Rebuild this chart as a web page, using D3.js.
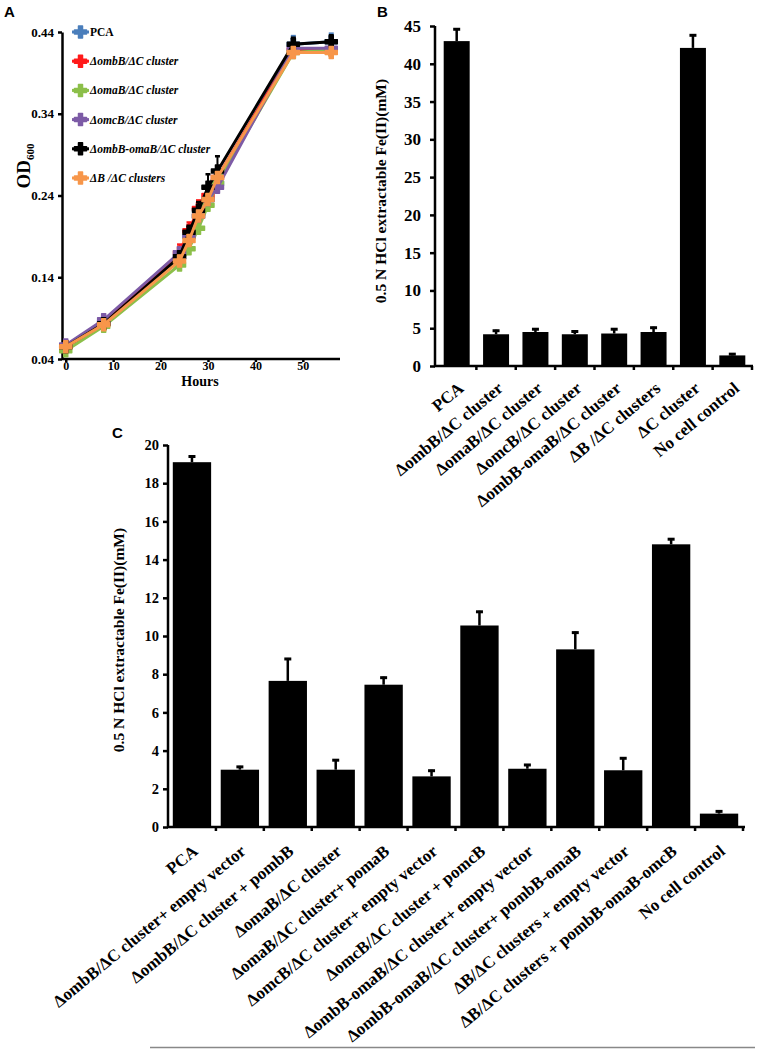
<!DOCTYPE html>
<html><head><meta charset="utf-8">
<script src="https://cdn.jsdelivr.net/npm/d3@7"></script>
<style>
body{margin:0;background:#fff}
svg{display:block}
text{font-family:"Liberation Serif","Times New Roman",serif;font-weight:bold;fill:#000}
</style>
</head><body>
<svg id="c" width="758" height="1052"></svg>
<script>
// ---------- Panel A data ----------
const hours = [0, 8, 24, 26, 28, 30, 32, 48, 56];
const seriesA = ["PCA", "ΔombB/ΔC cluster", "ΔomaB/ΔC cluster", "ΔomcB/ΔC cluster", "ΔombB-omaB/ΔC cluster", "ΔB /ΔC clusters"];
const colorsA = ["#4a7ebb", "#ff1a1a", "#8cbf4a", "#7d5ba6", "#000000", "#f7964a"];
const odPCA    = [0.055, 0.085, 0.165, 0.190, 0.215, 0.235, 0.255, 0.425, 0.428];
const odOmbB   = [0.055, 0.083, 0.170, 0.197, 0.224, 0.240, 0.262, 0.418, 0.418];
const odOmaB   = [0.050, 0.080, 0.155, 0.175, 0.200, 0.228, 0.255, 0.415, 0.418];
const odOmcB   = [0.057, 0.088, 0.170, 0.190, 0.215, 0.235, 0.250, 0.420, 0.420];
const odOmbOma = [0.055, 0.083, 0.165, 0.195, 0.222, 0.250, 0.270, 0.425, 0.428];
const odBC     = [0.055, 0.082, 0.160, 0.185, 0.215, 0.235, 0.262, 0.415, 0.415];
const errPCA    = [0.004, 0.003, 0.006, 0.006, 0.006, 0.010, 0.012, 0.010, 0.010];
const errOmbB   = [0.003, 0.003, 0.010, 0.010, 0.010, 0.006, 0.006, 0.006, 0.006];
const errOmaB   = [0.003, 0.003, 0.010, 0.010, 0.008, 0.006, 0.006, 0.006, 0.006];
const errOmcB   = [0.003, 0.003, 0.006, 0.006, 0.006, 0.006, 0.008, 0.006, 0.006];
const errOmbOma = [0.003, 0.003, 0.006, 0.008, 0.010, 0.016, 0.018, 0.008, 0.008];
const errBC     = [0.003, 0.003, 0.006, 0.006, 0.006, 0.006, 0.006, 0.006, 0.006];
const yTicksA = [0.04, 0.14, 0.24, 0.34, 0.44];
const xTicksA = [0, 10, 20, 30, 40, 50];

// ---------- Panel B data ----------
const catsB = ["PCA", "ΔombB/ΔC cluster", "ΔomaB/ΔC cluster", "ΔomcB/ΔC cluster", "ΔombB-omaB/ΔC cluster", "ΔB /ΔC clusters", "ΔC cluster", "No cell control"];
const valsB = [43.0, 4.2, 4.5, 4.2, 4.3, 4.5, 42.1, 1.4];
const errsB = [1.7, 0.6, 0.5, 0.5, 0.7, 0.7, 1.8, 0.3];
const yTicksB = [0, 5, 10, 15, 20, 25, 30, 35, 40, 45];

// ---------- Panel C data ----------
const catsC = ["PCA", "ΔombB/ΔC cluster+ empty vector", "ΔombB/ΔC cluster + pombB", "ΔomaB/ΔC cluster", "ΔomaB/ΔC cluster+ pomaB", "ΔomcB/ΔC cluster+ empty vector", "ΔomcB/ΔC cluster + pomcB", "ΔombB-omaB/ΔC cluster+ empty vector", "ΔombB-omaB/ΔC cluster+ pombB-omaB", "ΔB/ΔC clusters + empty vector", "ΔB/ΔC clusters + pombB-omaB-omcB", "No cell control"];
const valsC = [19.1, 3.0, 7.65, 3.0, 7.45, 2.65, 10.55, 3.05, 9.3, 2.97, 14.8, 0.7];
const errsC = [0.35, 0.2, 1.2, 0.55, 0.42, 0.35, 0.77, 0.25, 0.93, 0.68, 0.32, 0.17];
const yTicksC = [0, 2, 4, 6, 8, 10, 12, 14, 16, 18, 20];

const svg = d3.select("#c");
svg.append("rect").attr("width", 758).attr("height", 1052).attr("fill", "#fff");

function styleAxis(g, w) {
  g.selectAll(".domain").attr("stroke", "#000").attr("stroke-width", w);
  g.selectAll(".tick line").attr("stroke", "#000").attr("stroke-width", w);
}

// panel letters
[["A", 4, 17], ["B", 377, 17], ["C", 112, 438]].forEach(([t, x, y]) => {
  svg.append("text").attr("x", x).attr("y", y).text(t)
    .style("font-family", "'Liberation Sans',Arial,sans-serif").style("font-size", "15px");
});

// ================= Panel A =================
{
  const x = d3.scaleLinear([-1, 57], [61, 336]);
  const y = d3.scaleLinear([0.04, 0.44], [359, 32]);
  const gy = svg.append("g").attr("transform", "translate(62,0)")
    .call(d3.axisLeft(y).tickValues(yTicksA).tickFormat(d3.format(".2f")).tickSize(4).tickSizeOuter(0));
  styleAxis(gy, 2.5);
  gy.selectAll("text").style("font-size", "13px").attr("x", -8);
  const gx = svg.append("g").attr("transform", "translate(0,359)")
    .call(d3.axisBottom(x).tickValues(xTicksA).tickSize(3).tickSizeOuter(0));
  styleAxis(gx, 2.5);
  gx.select(".domain").attr("d", "M62,0H340");
  gx.selectAll("text").style("font-size", "12px").attr("y", 2);
  svg.append("text").attr("x", 200).attr("y", 386).attr("text-anchor", "middle").style("font-size", "14px").text("Hours");
  const t = svg.append("text").attr("transform", "translate(30,166) rotate(-90)").attr("text-anchor", "middle").style("font-size", "19px");
  t.append("tspan").text("OD");
  t.append("tspan").attr("dy", 4).style("font-size", "11px").text("600");

  const data = [odPCA, odOmbB, odOmaB, odOmcB, odOmbOma, odBC];
  const errs = [errPCA, errOmbB, errOmaB, errOmcB, errOmbOma, errBC];
  const line = d3.line().x((d, i) => x(hours[i])).y(d => y(d));
  const sym = d3.symbol(d3.symbolCross, 80);
  data.forEach((vals, s) => {
    const g = svg.append("g");
    g.append("path").attr("d", line(vals)).attr("fill", "none").attr("stroke", colorsA[s]).attr("stroke-width", 3);
    vals.forEach((v, i) => {
      const cx = x(hours[i]), top = y(v + errs[s][i]);
      g.append("line").attr("x1", cx).attr("x2", cx).attr("y1", y(v)).attr("y2", top).attr("stroke", colorsA[s]).attr("stroke-width", 2);
      g.append("line").attr("x1", cx - 2.5).attr("x2", cx + 2.5).attr("y1", top).attr("y2", top).attr("stroke", colorsA[s]).attr("stroke-width", 2.5);
      g.append("path").attr("d", sym()).attr("transform", `translate(${cx},${y(v)})`).attr("fill", colorsA[s])
        .attr("stroke", colorsA[s]).attr("stroke-width", 1.5).attr("stroke-linejoin", "round");
    });
  });
  // legend
  seriesA.forEach((name, s) => {
    const ly = 32 + s * 29.2;
    const g = svg.append("g");
    g.append("line").attr("x1", 72).attr("x2", 89).attr("y1", ly).attr("y2", ly).attr("stroke", colorsA[s]).attr("stroke-width", 3);
    g.append("path").attr("d", sym()).attr("transform", `translate(80.5,${ly})`).attr("fill", colorsA[s])
      .attr("stroke", colorsA[s]).attr("stroke-width", 1.5).attr("stroke-linejoin", "round");
    g.append("text").attr("x", 90).attr("y", ly + 4).style("font-size", "11.5px")
      .style("font-style", s === 0 ? "normal" : "italic").text(name);
  });
}

// ================= Panel B =================
{
  const x = d3.scaleBand(catsB, [437, 752]).paddingInner(0.34).paddingOuter(0.17);
  const y = d3.scaleLinear([0, 45], [366, 26]);
  const gy = svg.append("g").attr("transform", "translate(435,0)")
    .call(d3.axisLeft(y).tickValues(yTicksB).tickSize(5).tickSizeOuter(0));
  styleAxis(gy, 2.5);
  gy.select(".domain").attr("d", "M0,367V26");
  gy.selectAll("text").style("font-size", "17px").attr("x", -14);
  const step = x.step();
  const gx = svg.append("g").attr("transform", "translate(0,366)");
  gx.append("line").attr("x1", 434).attr("x2", 753).attr("stroke", "#000").attr("stroke-width", 2.5);
  catsB.forEach((c, i) => {
    const tx = 437 + step * (i + 1);
    gx.append("line").attr("x1", tx).attr("x2", tx).attr("y1", 0).attr("y2", 4).attr("stroke", "#000").attr("stroke-width", 2.5);
  });
  svg.append("g").selectAll("rect").data(catsB).join("rect")
    .attr("x", d => x(d)).attr("width", x.bandwidth())
    .attr("y", (d, i) => y(valsB[i])).attr("height", (d, i) => y(0) - y(valsB[i])).attr("fill", "#000");
  catsB.forEach((c, i) => {
    const cx = x(c) + x.bandwidth() / 2, top = y(valsB[i] + errsB[i]);
    svg.append("line").attr("x1", cx).attr("x2", cx).attr("y1", y(valsB[i])).attr("y2", top).attr("stroke", "#000").attr("stroke-width", 2.5);
    svg.append("line").attr("x1", cx - 3.5).attr("x2", cx + 3.5).attr("y1", top + 1).attr("y2", top + 1).attr("stroke", "#000").attr("stroke-width", 3);
    svg.append("text").attr("transform", `translate(${cx + 8},${390}) rotate(-40)`)
      .attr("text-anchor", "end").style("font-size", "17px").text(c);
  });
  svg.append("text").attr("transform", "translate(386,191) rotate(-90)").attr("text-anchor", "middle")
    .style("font-size", "15.5px").text("0.5 N HCl extractable  Fe(II)(mM)");
}

// ================= Panel C =================
{
  const x = d3.scaleBand(catsC, [168, 743]).paddingInner(0.2).paddingOuter(0.1);
  const y = d3.scaleLinear([0, 20], [827, 445]);
  const gy = svg.append("g").attr("transform", "translate(168,0)")
    .call(d3.axisLeft(y).tickValues(yTicksC).tickSize(5).tickSizeOuter(0));
  styleAxis(gy, 2.5);
  gy.select(".domain").attr("d", "M0,828V445");
  gy.selectAll("text").style("font-size", "14.5px").attr("x", -9);
  const step = x.step();
  const gx = svg.append("g").attr("transform", "translate(0,827)");
  gx.append("line").attr("x1", 167).attr("x2", 745).attr("stroke", "#000").attr("stroke-width", 2.5);
  catsC.forEach((c, i) => {
    const tx = 168 + step * (i + 1);
    gx.append("line").attr("x1", tx).attr("x2", tx).attr("y1", 0).attr("y2", 4).attr("stroke", "#000").attr("stroke-width", 2.5);
  });
  svg.append("g").selectAll("rect").data(catsC).join("rect")
    .attr("x", d => x(d)).attr("width", x.bandwidth())
    .attr("y", (d, i) => y(valsC[i])).attr("height", (d, i) => y(0) - y(valsC[i])).attr("fill", "#000");
  catsC.forEach((c, i) => {
    const cx = x(c) + x.bandwidth() / 2, top = y(valsC[i] + errsC[i]);
    svg.append("line").attr("x1", cx).attr("x2", cx).attr("y1", y(valsC[i])).attr("y2", top).attr("stroke", "#000").attr("stroke-width", 2.5);
    svg.append("line").attr("x1", cx - 3.5).attr("x2", cx + 3.5).attr("y1", top + 1).attr("y2", top + 1).attr("stroke", "#000").attr("stroke-width", 3);
    svg.append("text").attr("transform", `translate(${cx + 7},${853}) rotate(-39.5)`)
      .attr("text-anchor", "end").style("font-size", "17px").text(c);
  });
  svg.append("text").attr("transform", "translate(124,640) rotate(-90)").attr("text-anchor", "middle")
    .style("font-size", "15.5px").text("0.5 N HCl extractable  Fe(II)(mM)");
}
svg.append("line").attr("x1", 150).attr("x2", 755).attr("y1", 1047.5).attr("y2", 1047.5).attr("stroke", "#888").attr("stroke-width", 1.5);
</script>
</body></html>
